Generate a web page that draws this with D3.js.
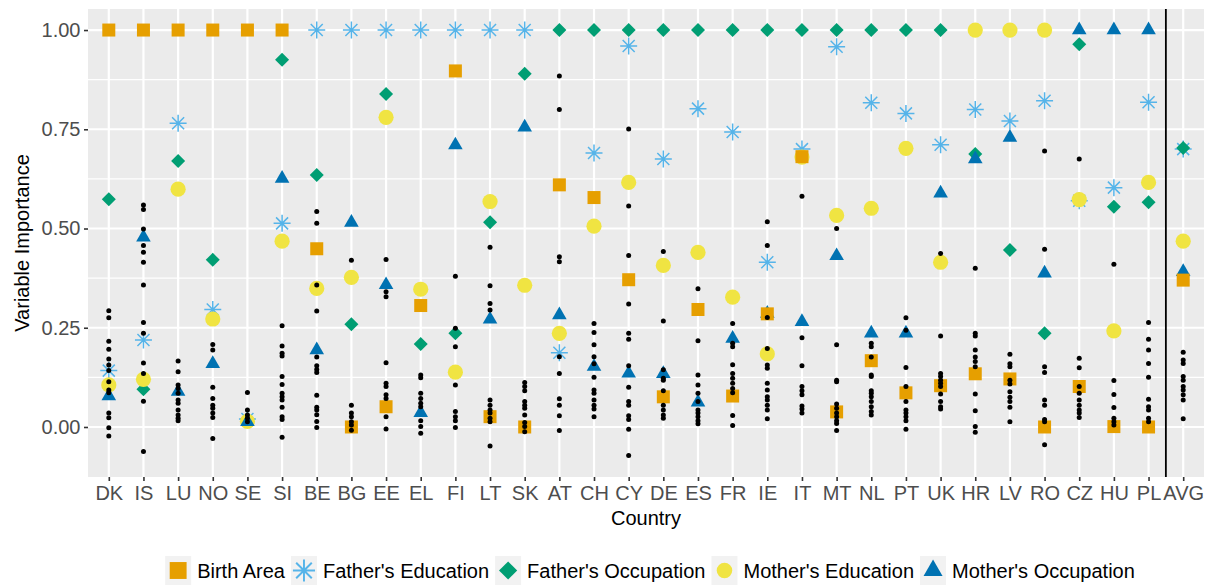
<!DOCTYPE html>
<html>
<head>
<meta charset="utf-8">
<script src="https://cdn.jsdelivr.net/npm/d3@7"></script>
<style>
body { margin: 0; background: #fff; }
svg { font-family: "Liberation Sans", Arial, Helvetica, sans-serif; }
</style>
</head>
<body>
<svg></svg>
<script>
var countries = ["DK","IS","LU","NO","SE","SI","BE","BG","EE","EL","FI","LT","SK","AT","CH","CY",
  "DE","ES","FR","IE","IT","MT","NL","PT","UK","HR","LV","RO","CZ","HU","PL","AVG"];

var birthArea = [1.00,1.00,1.00,1.00,1.00,1.00,0.449,0.00,0.051,0.306,0.897,0.026,0.00,0.61,0.578,0.371,
  0.076,0.296,0.078,0.285,0.681,0.038,0.167,0.086,0.104,0.134,0.121,0.00,0.102,0.001,0.00,0.37];
var fatherEdu = [0.142,0.219,0.765,0.296,0.02,0.513,1,1,1,1,1,1,1,0.187,0.69,0.96,
  0.675,0.802,0.743,0.415,0.70,0.958,0.817,0.79,0.711,0.80,0.771,0.822,0.57,0.603,0.818,0.70];
var fatherOcc = [0.574,0.095,0.67,0.421,0.02,0.925,0.635,0.259,0.839,0.209,0.236,0.516,0.89,1,1,1,
  1,1,1,1,1,1,1,1,1,0.688,0.446,0.236,0.964,0.555,0.566,0.703];
var motherEdu = [0.106,0.12,0.599,0.272,0.014,0.468,0.349,0.377,0.78,0.347,0.138,0.568,0.357,0.236,0.506,0.616,
  0.407,0.44,0.327,0.184,0.68,0.533,0.551,0.702,0.415,1,1,1,0.573,0.242,0.616,0.468];
var motherOcc = [0.078,0.478,0.089,0.159,0.013,0.626,0.194,0.515,0.358,0.036,0.71,0.271,0.755,0.282,0.152,0.135,
  0.134,0.062,0.223,0.286,0.265,0.431,0.236,0.236,0.589,0.675,0.729,0.387,1,1,1,0.391];

// the remaining variables of each country (black dots)
var otherVars = [
  [0.293,0.275,0.216,0.196,0.171,0.156,0.142,0.114,0.093,0.086,0.035,0.023,-0.002,-0.023],
  [0.559,0.548,0.499,0.457,0.44,0.415,0.358,0.263,0.236,0.161,0.135,0.065,-0.062],
  [0.166,0.139,0.106,0.097,0.085,0.068,0.06,0.043,0.03,0.022,0.016],
  [0.208,0.194,0.1,0.072,0.055,0.047,0.035,0.024,-0.029],
  [0.087,0.043,0.03,0.022,0.013],
  [0.255,0.204,0.186,0.179,0.127,0.107,0.085,0.076,0.068,0.05,0.026,0.019,-0.026],
  [0.543,0.513,0.358,0.292,0.176,0.154,0.145,0.137,0.08,0.05,0.043,0.031,0.014,-0.001],
  [0.42,0.055,0.035,0.026,0.013,0.005,-0.008],
  [0.422,0.341,0.328,0.162,0.11,0.102,0.081,0.072,0.026,-0.005],
  [0.131,0.124,0.085,0.072,0.06,0.051,0.016,0.001,-0.016],
  [0.38,0.249,0.202,0.106,0.039,0.026,0.016,-0.001],
  [0.453,0.356,0.311,0.295,0.068,0.055,0.043,0.035,0.022,0.013,-0.048],
  [0.112,0.102,0.091,0.064,0.055,0.047,0.03,0.011,0.001,-0.012],
  [0.884,0.8,0.429,0.416,0.177,0.135,0.071,0.055,0.028,-0.009],
  [0.261,0.238,0.207,0.177,0.159,0.125,0.093,0.085,0.068,0.055,0.045,0.026],
  [0.751,0.557,0.432,0.31,0.236,0.221,0.154,0.1,0.064,0.055,0.028,0.019,-0.006,-0.072],
  [0.442,0.267,0.144,0.123,0.118,0.091,0.055,0.043,0.03,0.022],
  [0.348,0.217,0.131,0.106,0.085,0.064,0.043,0.035,0.026,0.016,0.008],
  [0.261,0.211,0.202,0.157,0.135,0.123,0.11,0.097,0.086,0.029,0.004],
  [0.517,0.457,0.276,0.198,0.156,0.148,0.11,0.093,0.076,0.068,0.055,0.043,0.021],
  [0.581,0.225,0.154,0.102,0.091,0.081,0.053,0.045,0.035],
  [0.5,0.207,0.118,0.114,0.058,0.047,0.035,0.026,0.016,0.009,-0.009],
  [0.211,0.202,0.176,0.131,0.127,0.091,0.085,0.076,0.064,0.051,0.039,0.03],
  [0.275,0.244,0.15,0.102,0.064,0.043,0.035,0.026,0.016,-0.006],
  [0.437,0.229,0.135,0.127,0.118,0.11,0.102,0.083,0.064,0.051,0.045],
  [0.4,0.236,0.229,0.194,0.176,0.165,0.152,0.083,0.041,0.001,-0.013],
  [0.183,0.159,0.152,0.118,0.108,0.089,0.075,0.064,0.05,0.013],
  [0.695,0.448,0.152,0.137,0.068,0.055,0.019,0.013,-0.045],
  [0.675,0.173,0.149,0.102,0.085,0.068,0.055,0.043,0.035,0.024],
  [0.41,0.117,0.082,0.049,0.022,0.013,0.005],
  [0.263,0.221,0.194,0.16,0.125,0.07,0.051,0.043,0.022,0.013],
  [0.188,0.169,0.16,0.127,0.118,0.102,0.093,0.081,0.068,0.021]
];

var seriesNames = ["Birth Area","Father's Education","Father's Occupation","Mother's Education","Mother's Occupation"];
var seriesColors = ["#E69F00","#56B4E9","#009E73","#F0E442","#0072B2"];
var seriesShapes = ["square","asterisk","diamond","circle","triangle"];
var seriesValues = [birthArea, fatherEdu, fatherOcc, motherEdu, motherOcc];
var yTicks = [0, 0.25, 0.5, 0.75, 1];
var yMinor = [0.125, 0.375, 0.625, 0.875];

var width = 1211, height = 586;
var panel = {left: 88, right: 1204, top: 9, bottom: 477};

var svg = d3.select("svg")
  .attr("width", width)
  .attr("height", height);

var x = d3.scalePoint()
  .domain(countries)
  .range([panel.left, panel.right])
  .padding(0.6);

var y = d3.scaleLinear()
  .domain([-0.126, 1.053])
  .range([panel.bottom, panel.top]);

// panel background + grid
svg.append("rect")
  .attr("x", panel.left).attr("y", panel.top)
  .attr("width", panel.right - panel.left)
  .attr("height", panel.bottom - panel.top)
  .attr("fill", "#EBEBEB");

svg.selectAll(".minor")
  .data(yMinor).enter().append("line")
  .attr("x1", panel.left).attr("x2", panel.right)
  .attr("y1", d => y(d)).attr("y2", d => y(d))
  .style("stroke", "#fff").style("stroke-width", 1.1);

svg.selectAll(".majorY")
  .data(yTicks).enter().append("line")
  .attr("x1", panel.left).attr("x2", panel.right)
  .attr("y1", d => y(d)).attr("y2", d => y(d))
  .style("stroke", "#fff").style("stroke-width", 2.2);

svg.selectAll(".majorX")
  .data(countries).enter().append("line")
  .attr("x1", d => x(d)).attr("x2", d => x(d))
  .attr("y1", panel.top).attr("y2", panel.bottom)
  .style("stroke", "#fff").style("stroke-width", 2.2);

// separator before the average
var sepX = x("PL") + x.step() / 2;
svg.append("line")
  .attr("x1", sepX).attr("x2", sepX)
  .attr("y1", panel.top).attr("y2", panel.bottom)
  .style("stroke", "#000").style("stroke-width", 1.8);

// shapes, ggplot style
function drawShape(g, shape, color, s) {
  if (shape == "square") {
    g.append("rect").attr("x", -6.5 * s).attr("y", -6.5 * s)
      .attr("width", 13 * s).attr("height", 13 * s).attr("fill", color);
  } else if (shape == "circle") {
    g.append("circle").attr("r", 7.6 * s).attr("fill", color);
  } else if (shape == "diamond") {
    g.append("path")
      .attr("d", "M0," + (-7 * s) + "L" + (7 * s) + ",0L0," + (7 * s) + "L" + (-7 * s) + ",0Z")
      .attr("fill", color);
  } else if (shape == "triangle") {
    g.append("path")
      .attr("d", "M0," + (-8.5 * s) + "L" + (7.3 * s) + "," + (4.2 * s) + "L" + (-7.3 * s) + "," + (4.2 * s) + "Z")
      .attr("fill", color);
  } else if (shape == "asterisk") {
    var a = 8.5 * s, b = 6 * s;
    g.append("path")
      .attr("d", "M" + (-a) + ",0H" + a + "M0," + (-a) + "V" + a +
        "M" + (-b) + "," + (-b) + "L" + b + "," + b + "M" + (-b) + "," + b + "L" + b + "," + (-b))
      .attr("fill", "none").attr("stroke", color).attr("stroke-width", 1.5 * s);
  }
}

// draw order as in the original plot
var drawOrder = [1, 2, 3, 4, 0];
drawOrder.forEach(function(si) {
  seriesValues[si].forEach(function(v, i) {
    var g = svg.append("g")
      .attr("transform", "translate(" + x(countries[i]) + "," + y(v) + ")");
    drawShape(g, seriesShapes[si], seriesColors[si], 1);
  });
});

var dots = [];
otherVars.forEach(function(vals, i) {
  vals.forEach(function(v) { dots.push({c: countries[i], v: v}); });
});
svg.selectAll(".dot")
  .data(dots).enter().append("circle")
  .attr("cx", d => x(d.c))
  .attr("cy", d => y(d.v))
  .attr("r", 2.5)
  .attr("fill", "#000");

// axes
var xAxis = svg.append("g")
  .attr("transform", "translate(0," + panel.bottom + ")")
  .call(d3.axisBottom(x).tickSize(4).tickPadding(5));
var yAxis = svg.append("g")
  .attr("transform", "translate(" + panel.left + ",0)")
  .call(d3.axisLeft(y).tickValues(yTicks).tickFormat(d3.format(".2f")).tickSize(4).tickPadding(3.5));

[xAxis, yAxis].forEach(function(ax) {
  ax.select(".domain").remove();
  ax.selectAll(".tick line").style("stroke", "#333").style("stroke-width", 1.6);
  ax.selectAll(".tick text")
    .style("font-size", "20px")
    .style("fill", "#4D4D4D")
    .style("font-family", "'Liberation Sans', Arial, sans-serif");
});

svg.append("text")
  .attr("x", (panel.left + panel.right) / 2)
  .attr("y", 525)
  .attr("text-anchor", "middle")
  .style("font-size", "20px")
  .text("Country");

svg.append("text")
  .attr("transform", "translate(29," + ((panel.top + panel.bottom) / 2) + ") rotate(-90)")
  .attr("text-anchor", "middle")
  .style("font-size", "20px")
  .text("Variable Importance");

// legend, centred under the panel
var keyW = 26, keyH = 29, textGap = 6, itemGap = 6;
var legend = svg.append("g");
var cursor = 0;
seriesNames.forEach(function(name, i) {
  var item = legend.append("g");
  item.append("rect")
    .attr("x", 0).attr("y", 0)
    .attr("width", keyW).attr("height", keyH)
    .attr("fill", "#F2F2F2");
  var k = item.append("g").attr("transform", "translate(" + keyW / 2 + "," + keyH / 2 + ")");
  drawShape(k, seriesShapes[i], seriesColors[i], seriesShapes[i] == "circle" ? 1.02 : 1.3);
  var t = item.append("text")
    .attr("x", keyW + textGap)
    .attr("y", keyH / 2 + 7)
    .style("font-size", "20px")
    .text(name);
  var w = keyW + textGap + t.node().getComputedTextLength();
  item.attr("transform", "translate(" + cursor + ",0)");
  cursor += w + itemGap;
});
var legendW = cursor - itemGap;
legend.attr("transform", "translate(" + ((panel.left + panel.right) / 2 + 4 - legendW / 2) + ",556)");
</script>
</body>
</html>
